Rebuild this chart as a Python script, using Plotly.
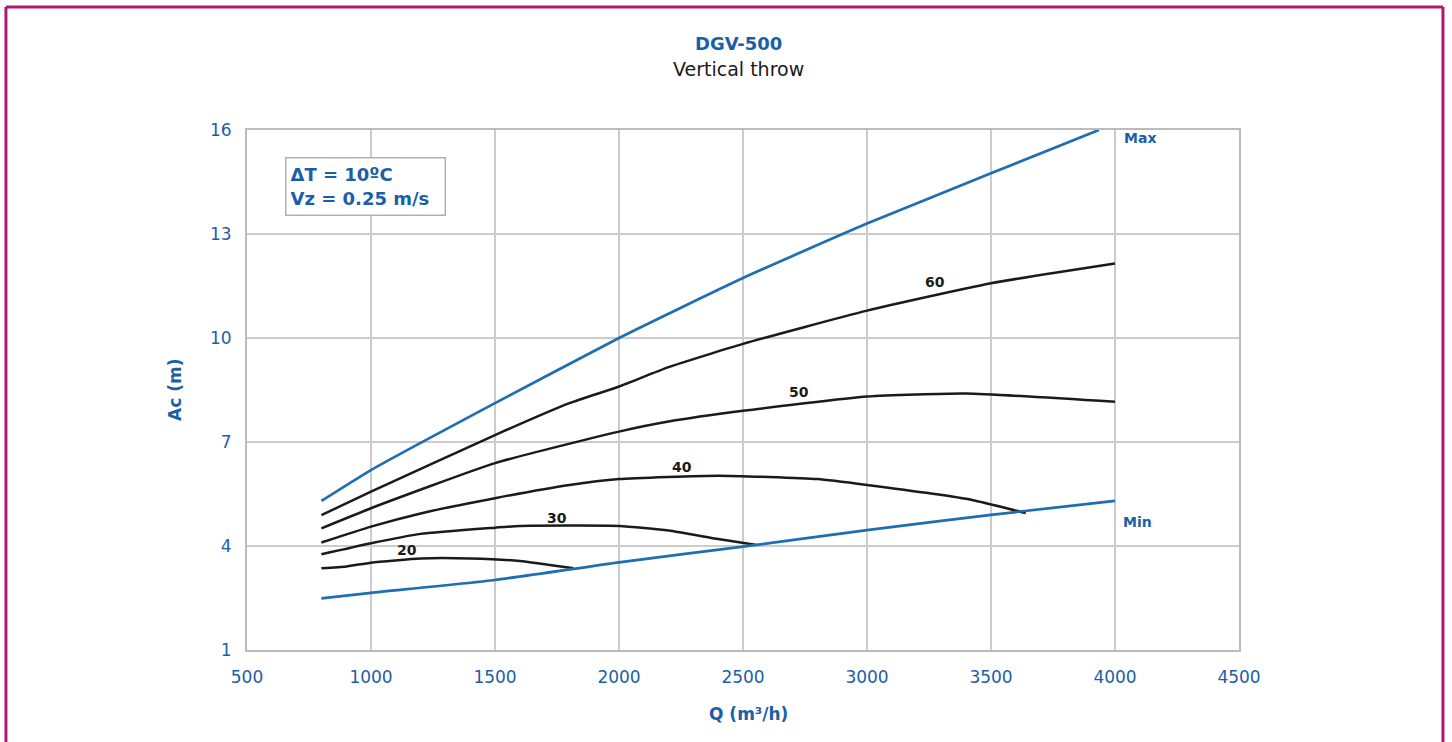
import plotly.graph_objects as go

# ---- data ----
max_q = [800, 1000, 1500, 2000, 2500, 3000, 3500, 3935]
max_a = [5.30, 6.19, 8.12, 10.0, 11.73, 13.3, 14.75, 16.0]

min_q = [800, 1000, 1500, 2000, 2500, 3000, 3500, 4000]
min_a = [2.49, 2.65, 3.02, 3.53, 3.98, 4.46, 4.90, 5.30]

c60_q = [800, 1000, 1500, 1800, 2000, 2200, 2500, 3000, 3500, 4000]
c60_a = [4.89, 5.57, 7.20, 8.12, 8.60, 9.16, 9.83, 10.79, 11.58, 12.15]

c50_q = [800, 1000, 1500, 2000, 2200, 2500, 3000, 3400, 4000]
c50_a = [4.51, 5.09, 6.39, 7.30, 7.59, 7.90, 8.31, 8.40, 8.16]

c40_q = [800, 1000, 1200, 1500, 1800, 2000, 2400, 2800, 3000, 3400, 3640]
c40_a = [4.10, 4.56, 4.94, 5.38, 5.76, 5.93, 6.03, 5.93, 5.76, 5.36, 4.95]

c30_q = [800, 1000, 1200, 1500, 1600, 2000, 2200, 2400, 2555]
c30_a = [3.76, 4.08, 4.35, 4.53, 4.58, 4.58, 4.45, 4.20, 4.03]

c20_q = [800, 900, 1000, 1200, 1400, 1600, 1816]
c20_a = [3.36, 3.41, 3.52, 3.64, 3.64, 3.57, 3.36]

curve_labels = ["60", "50", "40", "30", "20"]
label_q = [3274, 2726, 2254, 1750, 1145]
label_a = [11.61, 8.44, 6.28, 4.81, 3.88]

x_ticks = [500, 1000, 1500, 2000, 2500, 3000, 3500, 4000, 4500]
y_ticks = [1, 4, 7, 10, 13, 16]

# ---- styling ----
BLUE_LINE = "#1f6db3"
BLUE_TEXT = "#1b5ea8"
FONT = "DejaVu Sans, Arial, sans-serif"

fig = go.Figure()

for q, a in [(c60_q, c60_a), (c50_q, c50_a), (c40_q, c40_a), (c30_q, c30_a), (c20_q, c20_a)]:
    fig.add_trace(go.Scatter(x=q, y=a, mode="lines",
                             line=dict(color="#1a1a1a", width=2.5, shape="spline", smoothing=0.5),
                             showlegend=False, hoverinfo="skip"))

fig.add_trace(go.Scatter(x=max_q, y=max_a, mode="lines",
                         line=dict(color=BLUE_LINE, width=2.7, shape="spline", smoothing=0.5),
                         showlegend=False))
fig.add_trace(go.Scatter(x=min_q, y=min_a, mode="lines",
                         line=dict(color=BLUE_LINE, width=2.7, shape="spline", smoothing=0.5),
                         showlegend=False))

annotations = []
for t, q, a in zip(curve_labels, label_q, label_a):
    annotations.append(dict(x=q, y=a, xref="x", yref="y", text=f"<b>{t}</b>", showarrow=False,
                            xanchor="center", yanchor="middle",
                            font=dict(family=FONT, size=14, color="#1a1a1a")))

annotations += [
    dict(x=4030, y=15.77, xref="x", yref="y", text="<b>Max</b>", showarrow=False,
         xanchor="left", yanchor="middle",
         font=dict(family=FONT, size=14, color=BLUE_TEXT)),
    dict(x=4026, y=4.69, xref="x", yref="y", text="<b>Min</b>", showarrow=False,
         xanchor="left", yanchor="middle",
         font=dict(family=FONT, size=14, color=BLUE_TEXT)),
    dict(x=0.495, y=1.167, xref="paper", yref="paper", text="<b>DGV-500</b>", showarrow=False,
         xanchor="center", yanchor="middle",
         font=dict(family=FONT, size=18, color=BLUE_TEXT)),
    dict(x=0.495, y=1.117, xref="paper", yref="paper", text="Vertical throw", showarrow=False,
         xanchor="center", yanchor="middle",
         font=dict(family=FONT, size=19, color="#1a1a1a")),
    dict(x=0.506, y=-0.123, xref="paper", yref="paper", text="<b>Q (m³/h)</b>", showarrow=False,
         xanchor="center", yanchor="middle",
         font=dict(family=FONT, size=17, color=BLUE_TEXT)),
    dict(x=-0.0726, y=0.5, xref="paper", yref="paper", text="<b>Ac (m)</b>", showarrow=False,
         xanchor="center", yanchor="middle",
         textangle=-90, font=dict(family=FONT, size=17, color=BLUE_TEXT)),
    dict(x=0.0383, y=0.948, xref="paper", yref="paper", xanchor="left", yanchor="top",
         text="<b>ΔT = 10ºC<br>Vz = 0.25 m/s</b>", align="left", showarrow=False,
         width=150, height=48,
         bordercolor="#b0b0b0", borderwidth=1.5, borderpad=4, bgcolor="white",
         font=dict(family=FONT, size=18, color=BLUE_TEXT)),
]

BORDER = "#b0186f"
shapes = [
    dict(type="line", xref="paper", yref="paper", x0=-0.243, x1=1.2056, y0=1.2365, y1=1.2365,
         line=dict(color=BORDER, width=3)),
    dict(type="line", xref="paper", yref="paper", x0=-0.243, x1=-0.243, y0=1.2365, y1=-0.2,
         line=dict(color=BORDER, width=3)),
    dict(type="line", xref="paper", yref="paper", x0=1.2056, x1=1.2056, y0=1.2365, y1=-0.2,
         line=dict(color=BORDER, width=3)),
]

fig.update_layout(
    width=1452, height=742,
    margin=dict(l=247, r=213, t=130, b=92),
    paper_bgcolor="white", plot_bgcolor="white",
    font=dict(family=FONT),
    annotations=annotations, shapes=shapes,
    showlegend=False,
)
fig.update_xaxes(range=[500, 4500], tickvals=x_ticks, ticktext=[str(v) for v in x_ticks],
                 showgrid=True, gridcolor="#cccccc", gridwidth=2,
                 showline=True, linecolor="#bbbbbb", linewidth=2, mirror=True,
                 zeroline=False, ticks="", ticklabelstandoff=11,
                 tickfont=dict(family=FONT, size=17, color=BLUE_TEXT))
fig.update_yaxes(range=[1, 16], tickvals=y_ticks, ticktext=[str(v) for v in y_ticks],
                 showgrid=True, gridcolor="#cccccc", gridwidth=2,
                 showline=True, linecolor="#bbbbbb", linewidth=2, mirror=True,
                 zeroline=False, ticks="", ticklabelstandoff=10,
                 tickfont=dict(family=FONT, size=17, color=BLUE_TEXT))

fig.write_html("out.html", config={"displayModeBar": False},
               post_script="document.body.style.margin='0';document.body.style.overflow='hidden';")
